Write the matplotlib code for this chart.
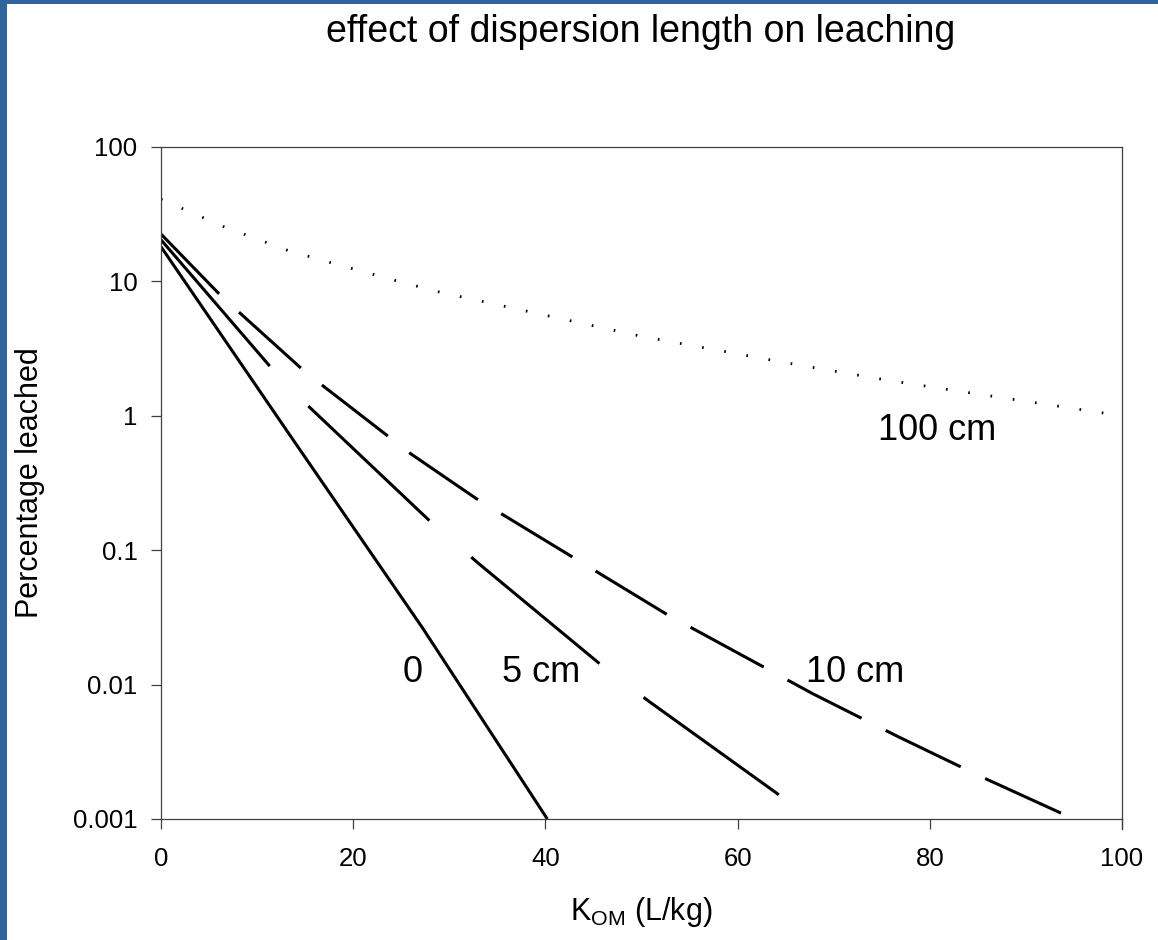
import matplotlib
matplotlib.use("Agg")
import matplotlib.pyplot as plt
from matplotlib.patches import Rectangle
from matplotlib.ticker import FixedLocator, FixedFormatter, NullLocator

plt.rcParams['font.family'] = ['Liberation Sans', 'DejaVu Sans']
plt.rcParams['mathtext.fontset'] = 'custom'
plt.rcParams['mathtext.rm'] = 'Liberation Sans'
plt.rcParams['mathtext.it'] = 'Liberation Sans'
plt.rcParams['lines.scale_dashes'] = False

# ---- data ----
title = "effect of dispersion length on leaching"
x_label = r"K$_{\mathrm{OM}}$ (L/kg)"
y_label = "Percentage leached"

koc_0 = [0, 13.6, 27.2, 40.2]
leach_0 = [18.1, 0.686, 0.0265, 0.001]

koc_5 = [0, 11.3, 15.5, 28.8, 33.2, 46.4, 50.8, 64.1, 67.3]
leach_5 = [20.4, 2.35, 1.15, 0.145, 0.078, 0.0129, 0.00748, 0.00155, 0.001]

koc_10 = [0, 6.35, 15.1, 26.0, 32.7, 52.7, 67.8, 76.7, 85.5, 95.0]
leach_10 = [22.5, 7.67, 2.09, 0.521, 0.245, 0.0331, 0.00857, 0.0041, 0.00204, 0.001]

koc_100 = [0, 6.66, 13.3, 17.8, 24.5, 28.9, 50, 66.6, 75.4, 82.1, 100]
leach_100 = [40.9, 25.3, 16.9, 13.7, 10.1, 8.36, 3.9, 2.37, 1.85, 1.56, 1.0]

curve_labels = ["0", "5 cm", "10 cm", "100 cm"]
label_x = [26.2, 39.6, 72.2, 80.8]
label_y = [0.0104, 0.0104, 0.0104, 0.663]

x_ticks = [0, 20, 40, 60, 80, 100]
y_ticks = [0.001, 0.01, 0.1, 1, 10, 100]
y_tick_labels = ["0.001", "0.01", "0.1", "1", "10", "100"]

# ---- figure ----
W, H = 1158, 940
fig = plt.figure(figsize=(W / 100, H / 100), dpi=100)
fig.patch.set_facecolor('white')
blue = '#31659a'
fig.add_artist(Rectangle((0, 0), 7.5 / W, 1, transform=fig.transFigure, color=blue, lw=0))
fig.add_artist(Rectangle((0, 1 - 4 / H), 1, 4 / H, transform=fig.transFigure, color=blue, lw=0))

ax = fig.add_axes([161 / W, 1 - 819 / H, (1122 - 161) / W, (819 - 147) / H])
ax.set_yscale('log')
ax.set_xlim(0, 100)
ax.set_ylim(0.001, 100)

lw = 2.2
ax.plot(koc_0, leach_0, color='black', lw=lw, solid_capstyle='butt')
ax.plot(koc_5, leach_5, color='black', lw=lw, dashes=(120, 40))
ax.plot(koc_10, leach_10, color='black', lw=lw, dashes=(60, 19.5))
ax.plot(koc_100, leach_100, color='black', lw=2.0, dashes=(1.2, 15.0))

for t, xx, yy in zip(curve_labels, label_x, label_y):
    ax.text(xx, yy, t, fontsize=26, ha='center', va='baseline', color='black')

ax.xaxis.set_major_locator(FixedLocator(x_ticks))
ax.yaxis.set_major_locator(FixedLocator(y_ticks))
ax.yaxis.set_major_formatter(FixedFormatter(y_tick_labels))
ax.yaxis.set_minor_locator(NullLocator())
ax.tick_params(axis='both', direction='out', length=7, width=0.9, color='#404040',
               labelsize=18.5, labelcolor='black')
ax.tick_params(axis='y', pad=10)
ax.tick_params(axis='x', pad=13)
for s in ax.spines.values():
    s.set_color('#404040')
    s.set_linewidth(0.9)

# right spine extends below the frame like a tick at 100
ax.plot([100, 100], [0.001, 0.001 * 10 ** (-10 / 134.5)], color='#404040', lw=0.9, clip_on=False)

fig.text(641 / W, 1 - 42 / H, title, fontsize=27, ha='center', va='baseline')
fig.text(30 / W, 1 - 483 / H, y_label, fontsize=22, rotation=90, ha='center', va='center')
fig.text(641 / W, 1 - 912 / H, x_label, fontsize=22, ha='center', va='center')

fig.savefig('out.png', dpi=100, facecolor='white')
